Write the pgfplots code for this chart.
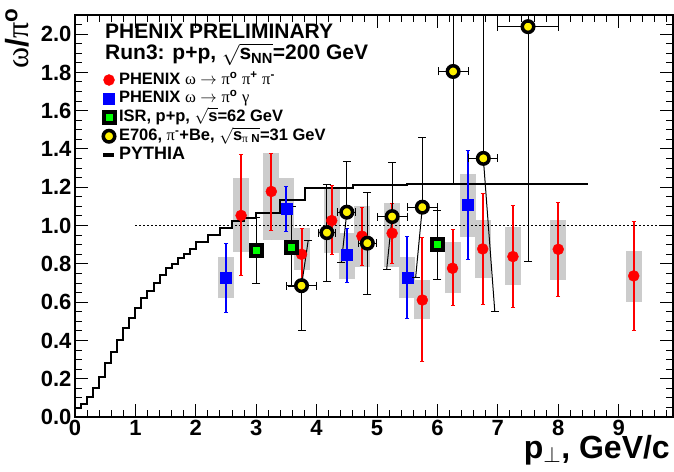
\RequirePackage{fix-cm}
\documentclass[border=0pt]{standalone}
\usepackage{amsmath}
\usepackage{fontspec}
\setmainfont{Liberation Sans}
\newfontfamily\symf{Liberation Serif}
\usepackage{pgfplots}
\usepackage{pgfplotstable}
\pgfplotsset{compat=1.18}
\pgfplotsset{legend image code/.code={\draw[mark repeat=2,mark phase=2,#1] plot coordinates {(0pt,0pt) (7pt,0pt) (14pt,0pt)};}}
\newcommand{\g}[1]{{\symf\mdseries #1}}
\definecolor{boxgray}{RGB}{204,204,204}

% systematic boxes: x, lower edge, upper edge
\pgfplotstableread{
x    lo    hi
2.75 0.864 1.248
3.25 0.925 1.379
3.75 0.768 0.986
4.25 0.855 1.190
4.75 0.785 1.103
5.25 0.785 1.117
5.75 0.510 0.716
6.25 0.646 0.916
6.75 0.725 1.030
7.25 0.690 0.990
8.00 0.716 1.030
9.25 0.602 0.867
2.50 0.620 0.838
3.50 0.925 1.248
4.50 0.719 0.963
5.50 0.620 0.838
6.50 0.939 1.270
}\boxes

% omega -> pi0 pi+ pi-
\pgfplotstableread{
x    y     lo    hi
2.75 1.053 0.738 1.370
3.25 1.178 0.972 1.379
3.75 0.850 0.716 0.983
4.25 1.026 0.847 1.208
4.75 0.945 0.791 1.094
5.25 0.960 0.803 1.117
5.75 0.611 0.288 0.939
6.25 0.777 0.580 0.977
6.75 0.878 0.588 1.170
7.25 0.838 0.571 1.105
8.00 0.876 0.632 1.120
9.25 0.737 0.454 1.021
}\reddata

% omega -> pi0 gamma
\pgfplotstableread{
x    y     lo    hi
2.50 0.728 0.545 0.908
3.50 1.086 0.969 1.204
4.50 0.847 0.703 0.986
5.50 0.728 0.515 0.943
6.50 1.108 0.824 1.393
}\bluedata

% ISR
\pgfplotstableread{
x    y     lo    hi
3.00 0.869 0.698 1.040
3.59 0.887 0.681 1.100
6.00 0.899 0.719 1.078
}\isrdata

% E706
\pgfplotstableread{
x    y     ex    lo    hi
3.75 0.686 0.25  0.454 0.686
4.17 0.963 0.14  0.710 1.217
4.50 1.070 0.15  1.070 1.335
4.84 0.908 0.15  0.642 1.173
5.25 1.047 0.25  1.047 1.330
5.75 1.096 0.245 1.096 1.460
6.26 1.805 0.25  1.217 3.000
6.76 1.351 0.24  1.351 3.000
7.50 2.039 0.50  0.812 3.000
}\esevdata

\begin{document}
\begin{tikzpicture}
\begin{axis}[
  at={(0pt,0pt)}, anchor=south west,
  scale only axis, width=598pt, height=402pt,
  xmin=0, xmax=9.9, ymin=0, ymax=2.1,
  xtick={0,...,9},
  ytick={0,0.2,0.4,0.6,0.8,1,1.2,1.4,1.6,1.8,2},
  minor xtick={0.2,0.4,...,9.9},
  minor ytick={0.05,0.1,...,2.1},
  tick align=inside, xtick pos=both, ytick pos=both,
  xticklabel pos=lower, yticklabel pos=left,
  major tick length=13pt, minor tick length=7pt,
  major tick style={black, line width=1pt},
  minor tick style={black, line width=1pt},
  axis line style={line width=1.6pt},
  /pgf/number format/assume math mode=true,
  every tick label/.append style={font=\bfseries\fontsize{22}{22}\selectfont},
  yticklabel style={/pgf/number format/.cd, fixed, fixed zerofill, precision=1},
  legend cell align=left,
  legend style={at={(0.0435,0.8582)}, anchor=north west, draw=none, fill=none,
    inner sep=0pt, outer sep=0pt, row sep=2.75pt,
    font=\bfseries\fontsize{16.5}{16.5}\selectfont,
    nodes={inner sep=0pt, text height=12pt, text depth=4pt},
    /tikz/every odd column/.append style={column sep=3pt}},
]
% systematic boxes
\addplot[forget plot, only marks, mark=*, mark size=0pt,
  mark options={draw=none, fill=none},
  error bars/.cd, y dir=plus, y explicit, error mark=none,
  error bar style={line width=16pt, boxgray}]
  table[x=x, y=lo, y error expr=\thisrow{hi}-\thisrow{lo}] {\boxes};

% PYTHIA
\addplot[forget plot, const plot, black, line width=2pt] coordinates {
  (0.0,0.047) (0.1,0.066) (0.2,0.105) (0.3,0.152) (0.4,0.210)
  (0.5,0.280) (0.6,0.337) (0.7,0.400) (0.8,0.464) (0.9,0.515)
  (1.0,0.568) (1.1,0.620) (1.2,0.658) (1.3,0.698) (1.4,0.742)
  (1.5,0.777) (1.6,0.800) (1.7,0.829) (1.8,0.852) (1.9,0.880)
  (2.0,0.916) (2.2,0.951) (2.4,0.986) (2.6,1.026) (2.8,1.039)
  (3.0,1.065) (3.4,1.134) (3.8,1.196) (4.6,1.210) (5.5,1.217)
  (8.5,1.217)
};

% unity line
\addplot[forget plot, black, line width=1pt, dash pattern=on 1.5pt off 2.5pt]
  coordinates {(1,1) (9.9,1)};

% omega -> pi0 pi+ pi-
\addplot[forget plot, only marks, red, mark=*, mark size=5.5pt,
  error bars/.cd, y dir=both, y explicit,
  error bar style={line width=2pt, red},
  error mark options={rotate=90, mark size=2pt, line width=1pt, red}]
  table[x=x, y=y, y error plus expr=\thisrow{hi}-\thisrow{y},
        y error minus expr=\thisrow{y}-\thisrow{lo}] {\reddata};

% omega -> pi0 gamma
\addplot[forget plot, only marks, blue, mark=square*, mark size=5.5pt,
  error bars/.cd, y dir=both, y explicit,
  error bar style={line width=2pt, blue},
  error mark options={rotate=90, mark size=2pt, line width=1pt, blue}]
  table[x=x, y=y, y error plus expr=\thisrow{hi}-\thisrow{y},
        y error minus expr=\thisrow{y}-\thisrow{lo}] {\bluedata};

% ISR
\addplot[forget plot, only marks, black, mark=square*, mark size=5.5pt,
  mark options={fill=green, draw=black, line width=4pt},
  error bars/.cd, y dir=both, y explicit,
  error bar style={line width=1pt, black},
  error mark options={rotate=90, mark size=4pt, line width=1pt, black}]
  table[x=x, y=y, y error plus expr=\thisrow{hi}-\thisrow{y},
        y error minus expr=\thisrow{y}-\thisrow{lo}] {\isrdata};

% E706: tilted error bars
\addplot[forget plot, black, line width=1pt, mark=-, mark indices={2}, mark size=4pt]
  coordinates {(3.75,0.686) (3.86,0.921)};
\addplot[forget plot, black, line width=1pt, mark=-, mark indices={2}, mark size=4pt]
  coordinates {(4.50,1.070) (4.41,0.806)};
\addplot[forget plot, black, line width=1pt, mark=-, mark indices={2}, mark size=4pt]
  coordinates {(5.25,1.047) (5.16,0.772)};
\addplot[forget plot, black, line width=1pt, mark=-, mark indices={2}, mark size=4pt]
  coordinates {(5.75,1.096) (5.64,0.730)};
\addplot[forget plot, black, line width=1pt, mark=-, mark indices={2}, mark size=4pt]
  coordinates {(6.76,1.351) (6.95,0.550)};

% E706
\addplot[forget plot, only marks, black, mark=*, mark size=5.75pt,
  mark options={fill=yellow, draw=black, line width=3.5pt},
  error bars/.cd, x dir=both, x explicit, y dir=both, y explicit,
  error bar style={line width=1pt, black},
  error mark options={rotate=90, mark size=4pt, line width=1pt, black}]
  table[x=x, y=y, x error=ex, y error plus expr=\thisrow{hi}-\thisrow{y},
        y error minus expr=\thisrow{y}-\thisrow{lo}] {\esevdata};

% legend
\addlegendimage{only marks, red, mark=*, mark size=5.5pt}
\addlegendentry{PHENIX \g{ω} $\rightarrow$ \g{π}\textsuperscript{o} \g{π}\textsuperscript{+} \g{π}\textsuperscript{-}}
\addlegendimage{only marks, blue, mark=square*, mark size=5.5pt}
\addlegendentry{PHENIX \g{ω} $\rightarrow$ \g{π}\textsuperscript{o} \g{γ}}
\addlegendimage{only marks, black, mark=square*, mark size=5.5pt,
  mark options={fill=green, draw=black, line width=4pt}}
\addlegendentry{ISR, p+p, $\sqrt{\text{s}}$=62 GeV}
\addlegendimage{only marks, black, mark=*, mark size=5.75pt,
  mark options={fill=yellow, draw=black, line width=3.5pt}}
\addlegendentry{E706, \g{π}\textsuperscript{-}+Be, $\sqrt{\text{s}_{\text{\g{π} N}}}$=31 GeV}
\addlegendimage{legend image code/.code={\draw[black, line width=4pt] (1pt,0pt) -- (12pt,0pt);}}
\addlegendentry{\fontsize{18}{18}\selectfont PYTHIA}
\end{axis}

\node[anchor=base west, inner sep=0pt, font=\bfseries\fontsize{21}{21}\selectfont]
  at (30pt,378pt) {PHENIX PRELIMINARY};
\node[anchor=base west, inner sep=0pt, font=\bfseries\fontsize{21}{21}\selectfont]
  at (30pt,357pt) {Run3: p+p, $\sqrt{\text{s}_{\text{NN}}}$=200 GeV};
\node[rotate=90, anchor=base east, inner sep=0pt, font=\bfseries\fontsize{32}{32}\selectfont]
  at (-46pt,409pt) {\g{ω}/\g{π}\textsuperscript{o}};
\node[anchor=base east, inner sep=0pt, font=\bfseries\fontsize{32}{32}\selectfont]
  at (595pt,-41pt) {p$_{\perp}$, GeV/c};

\pgfresetboundingbox
\path[use as bounding box] (-75pt,-54pt) rectangle (599pt,417pt);
\end{tikzpicture}
\end{document}
